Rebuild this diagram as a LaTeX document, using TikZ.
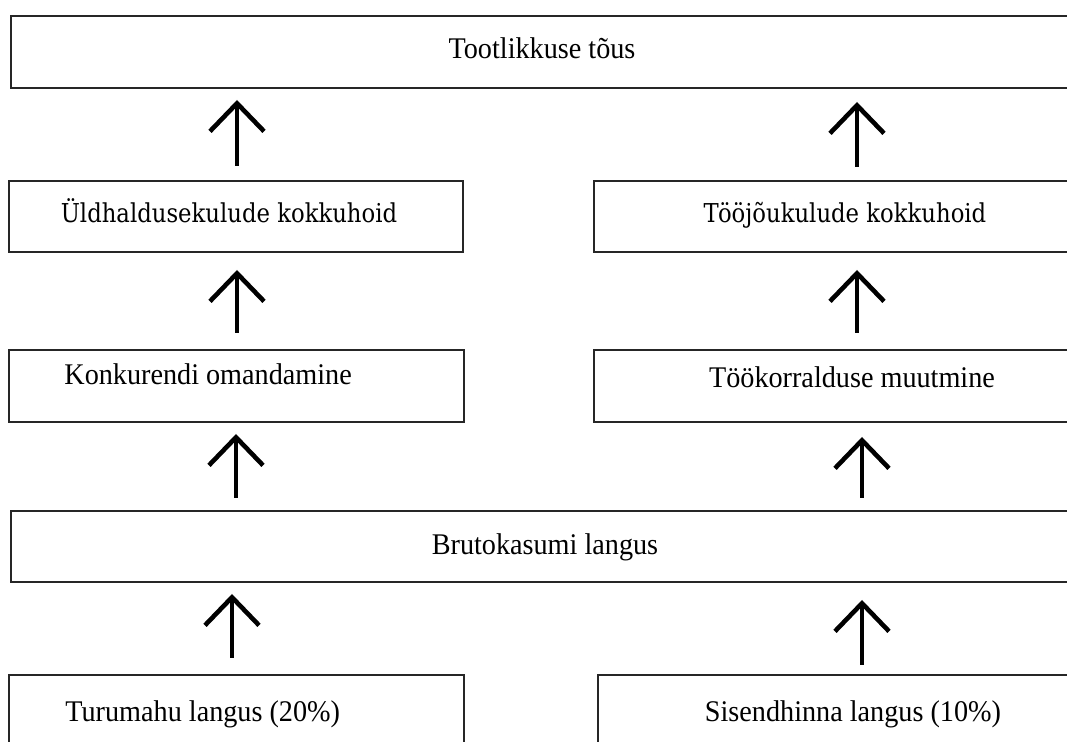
\documentclass[tikz,border=0pt]{standalone}
\usepackage{fontspec}
\setmainfont{Liberation Serif}[FakeStretch=0.94]
\newfontfamily\slabfont{DejaVu Serif}[FakeStretch=0.875]
\usetikzlibrary{arrows.meta}
\tikzset{
  box/.style={draw=black!85, line width=1.1pt, rectangle, inner sep=0pt, outer sep=0pt},
  txt/.style={inner sep=0pt, anchor=base, font=\fontsize{15}{18}\selectfont},
  slabtxt/.style={inner sep=0pt, anchor=base, font=\slabfont\fontsize{13}{15}\selectfont},
  arr/.style={line width=2.3pt, line cap=butt, -{Straight Barb[length=14pt,width=27pt,line cap=butt]}}
}
\begin{document}
\begin{tikzpicture}[x=0.5pt,y=-0.5pt]
\useasboundingbox (0,0) rectangle (1067,742);
\clip (0,0) rectangle (1067,742);
% boxes
\node[box, minimum width=534.5pt, minimum height=36pt] (r1) at (545.5,52) {};
\node[box, minimum width=227pt, minimum height=35.5pt] (r2l) at (236,216.5) {};
\node[box, minimum width=243pt, minimum height=35.5pt] (r2r) at (837,216.5) {};
\node[box, minimum width=227.5pt, minimum height=36pt] (r3l) at (236.5,386) {};
\node[box, minimum width=243pt, minimum height=36pt] (r3r) at (837,386) {};
\node[box, minimum width=534.5pt, minimum height=35.5pt] (r4) at (545.5,546.5) {};
\node[box, minimum width=227.5pt, minimum height=62.5pt] (r5l) at (236.5,737.5) {};
\node[box, minimum width=241pt, minimum height=62.5pt] (r5r) at (839,737.5) {};
% texts
\node[txt] (t1) at (542,59) {Tootlikkuse tõus};
\node[slabtxt] (t2l) at (229,223) {Üldhaldusekulude kokkuhoid};
\node[slabtxt] (t2r) at (845,223) {Tööjõukulude kokkuhoid};
\node[txt, anchor=base west] (t3l) at (64,385) {Konkurendi omandamine};
\node[txt] (t3r) at (852,388) {Töökorralduse muutmine};
\node[txt] (t4) at (545,555) {Brutokasumi langus};
\node[txt, anchor=base west] (t5l) at (65,722) {Turumahu langus (20\%)};
\node[txt] (t5r) at (853,722) {Sisendhinna langus (10\%)};
% arrow columns
\coordinate (cA) at (237,0);
\coordinate (cB) at (857,0);
\coordinate (cC) at (236,0);
\coordinate (cD) at (862,0);
\coordinate (cE) at (232,0);
% arrows
\draw[arr, shorten <=7.5pt, shorten >=6pt] (r2l.north -| cA) -- (r1.south -| cA);
\draw[arr, shorten <=7pt, shorten >=7pt] (r2r.north -| cB) -- (r1.south -| cB);
\draw[arr, shorten <=8.5pt, shorten >=9pt] (r3l.north -| cA) -- (r2l.south -| cA);
\draw[arr, shorten <=8.5pt, shorten >=9pt] (r3r.north -| cB) -- (r2r.south -| cB);
\draw[arr, shorten <=6.5pt, shorten >=6pt] (r4.north -| cC) -- (r3l.south -| cC);
\draw[arr, shorten <=6.5pt, shorten >=7.5pt] (r4.north -| cD) -- (r3r.south -| cD);
\draw[arr, shorten <=8.5pt, shorten >=6pt] (r5l.north -| cE) -- (r4.south -| cE);
\draw[arr, shorten <=5pt, shorten >=9pt] (r5r.north -| cD) -- (r4.south -| cD);
\end{tikzpicture}
\end{document}
